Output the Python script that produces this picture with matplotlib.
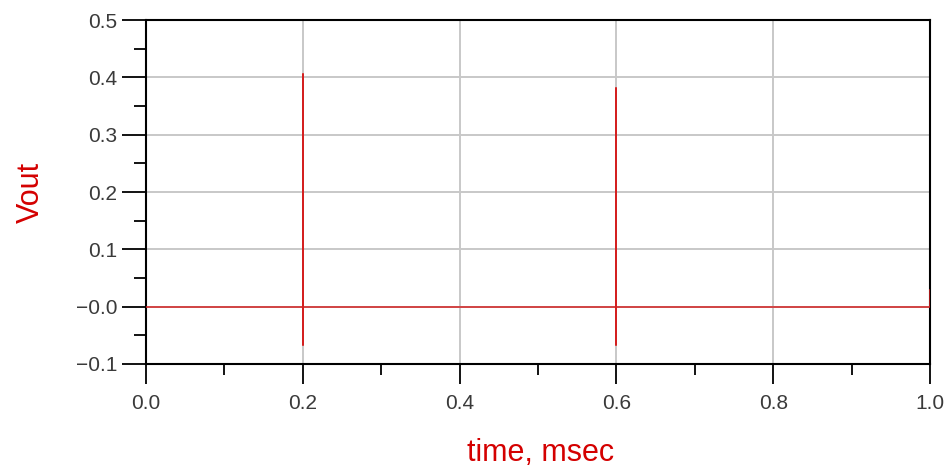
import matplotlib
matplotlib.use('Agg')
import matplotlib.pyplot as plt
from matplotlib.ticker import FixedLocator, FixedFormatter

# transient output: flat baseline with two spikes and a small step at the end
time_ms = [0.0, 0.2, 0.2, 0.2, 0.2, 0.6, 0.6, 0.6, 0.6, 1.0, 1.0]
vout = [0.0, 0.0, 0.406, -0.067, 0.0, 0.0, 0.381, -0.067, 0.0, 0.0, 0.029]

x_ticks = [0.0, 0.2, 0.4, 0.6, 0.8, 1.0]
x_labels = ['0.0', '0.2', '0.4', '0.6', '0.8', '1.0']
y_ticks = [0.5, 0.4, 0.3, 0.2, 0.1, 0.0, -0.1]
y_labels = ['0.5', '0.4', '0.3', '0.2', '0.1', '\u22120.0', '\u22120.1']

plt.rcParams['font.family'] = ['Liberation Sans', 'DejaVu Sans']

fig = plt.figure(figsize=(9.51, 4.67), dpi=100)
ax = fig.add_axes([0.1535, 0.2206, 0.8245, 0.7364])

ax.plot(time_ms, vout, color='#d42020', linewidth=1.1, zorder=3)

ax.set_xlim(0.0, 1.0)
ax.set_ylim(-0.1, 0.5)

ax.xaxis.set_major_locator(FixedLocator(x_ticks))
ax.xaxis.set_major_formatter(FixedFormatter(x_labels))
ax.xaxis.set_minor_locator(FixedLocator([0.1, 0.3, 0.5, 0.7, 0.9]))
ax.yaxis.set_major_locator(FixedLocator(y_ticks))
ax.yaxis.set_major_formatter(FixedFormatter(y_labels))
ax.yaxis.set_minor_locator(FixedLocator([0.45, 0.35, 0.25, 0.15, 0.05, -0.05]))

ax.grid(True, which='major', color='#c8c8c8', linewidth=1.4, zorder=1)
ax.set_axisbelow(True)

for side in ['left', 'bottom', 'top', 'right']:
    ax.spines[side].set_color('black')
    ax.spines[side].set_linewidth(1.5)

ax.tick_params(axis='y', which='major', direction='out', length=17, width=1.3,
               labelsize=15, labelcolor='#3a3a3a', pad=3.5)
ax.tick_params(axis='y', which='minor', direction='out', length=9, width=1.3)
ax.tick_params(axis='x', which='major', direction='out', length=14.4, width=1.3,
               labelsize=15, labelcolor='#3a3a3a', pad=7.5)
ax.tick_params(axis='x', which='minor', direction='out', length=8, width=1.3)

ax.set_xlabel('time, msec', color='#d40000', fontsize=22)
ax.set_ylabel('Vout', color='#d40000', fontsize=22)
ax.xaxis.set_label_coords(0.5026, -0.215)
ax.yaxis.set_label_coords(-0.128, 0.5)

fig.savefig('out.png', dpi=100)
